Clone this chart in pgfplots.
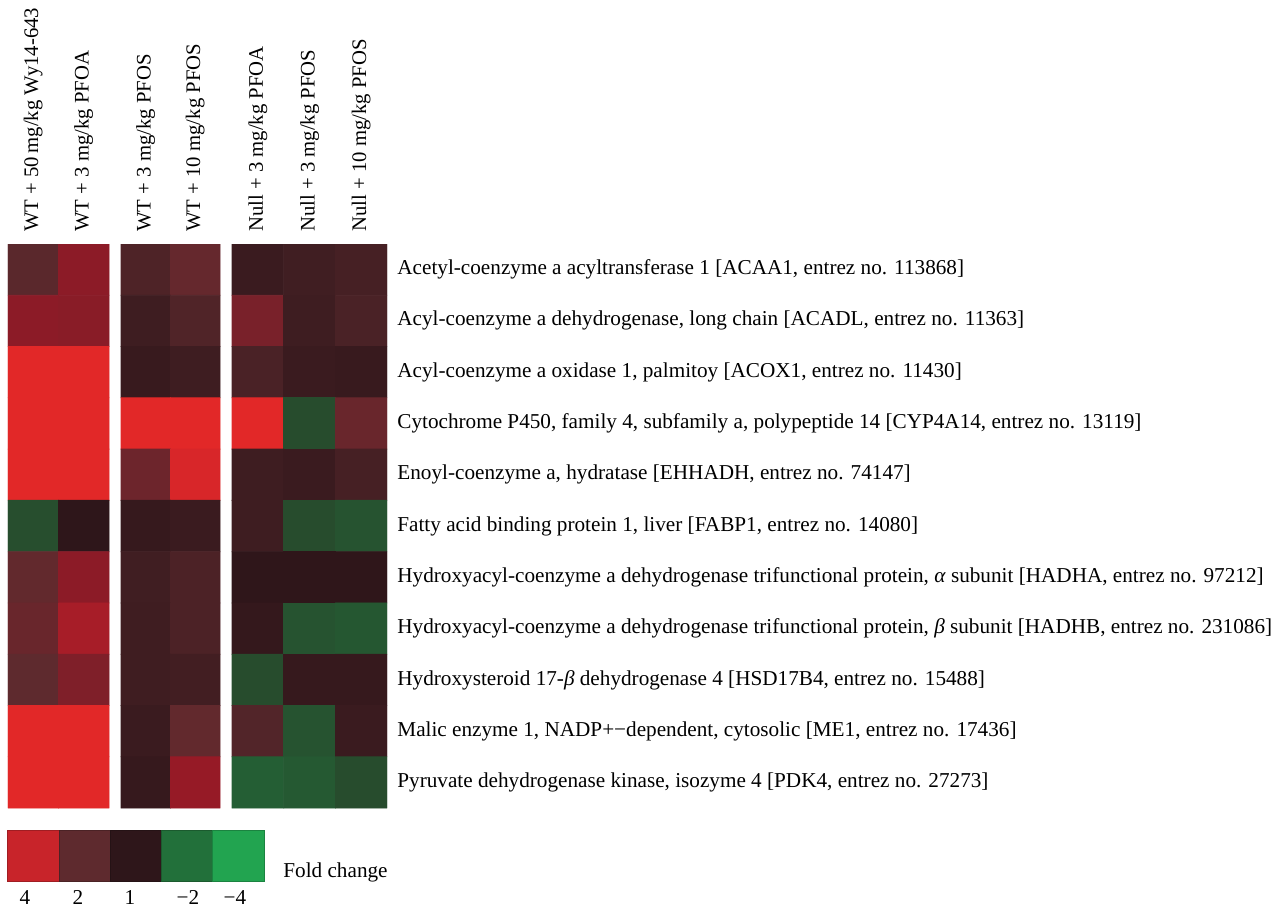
\documentclass[border=0pt]{standalone}
\usepackage{pgfplots}
\pgfplotsset{compat=1.18}
\usepackage{fontspec}
\setmainfont{Liberation Serif}
\newcommand{\lblfont}{\fontsize{10.6}{12.7}\selectfont}
\newcommand{\colfont}{\fontsize{10.35}{12.4}\selectfont}
\begin{document}
\begin{tikzpicture}
\useasboundingbox (0pt,0pt) rectangle (639.5pt,-453.5pt);
\pgfplotsset{
  colormap={foldchange}{rgb255(0cm)=(34,164,80) rgb255(1cm)=(34,112,58) rgb255(2cm)=(46,22,26) rgb255(3cm)=(94,42,46) rgb255(3.5cm)=(145,25,38) rgb255(4cm)=(200,36,42) rgb255(5cm)=(226,40,40)},
}
\begin{axis}[
  at={(4pt,-122pt)}, anchor=north west,
  scale only axis, width=189.5pt, height=282pt,
  xmin=8, xmax=387, ymin=-0.5, ymax=10.5, y dir=reverse,
  enlargelimits=false,
  axis line style={draw=none}, major tick length=0pt,
  point meta min=-2, point meta max=3,
  xtick={33.25,83.75,145.75,195.25,257.85,309.55,361.25},
  xticklabels={{WT + 50\,mg/kg Wy14-643},{WT + 3 mg/kg PFOA},{WT + 3 mg/kg PFOS},{WT + 10 mg/kg PFOS},{Null + 3 mg/kg PFOA},{Null + 3 mg/kg PFOS},{Null + 10 mg/kg PFOS}},
  xticklabel pos=top,
  xticklabel style={rotate=90, anchor=west, inner sep=0pt, font=\colfont},
  xticklabel shift=6pt,
  ytick={0,1,2,3,4,5,6,7,8,9,10},
  yticklabels={
    {Acetyl-coenzyme a acyltransferase 1 [ACAA1, entrez no. 113868]},
    {Acyl-coenzyme a dehydrogenase, long chain [ACADL, entrez no. 11363]},
    {Acyl-coenzyme a oxidase 1, palmitoy [ACOX1, entrez no. 11430]},
    {Cytochrome P450, family 4, subfamily a, polypeptide 14 [CYP4A14, entrez no. 13119]},
    {Enoyl-coenzyme a, hydratase [EHHADH, entrez no. 74147]},
    {Fatty acid binding protein 1, liver [FABP1, entrez no. 14080]},
    {Hydroxyacyl-coenzyme a dehydrogenase trifunctional protein, \textit{α} subunit [HADHA, entrez no. 97212]},
    {Hydroxyacyl-coenzyme a dehydrogenase trifunctional protein, \textit{β} subunit [HADHB, entrez no. 231086]},
    {Hydroxysteroid 17-\textit{β} dehydrogenase 4 [HSD17B4, entrez no. 15488]},
    {Malic enzyme 1, NADP+−dependent, cytosolic [ME1, entrez no. 17436]},
    {Pyruvate dehydrogenase kinase, isozyme 4 [PDK4, entrez no. 27273]}},
  yticklabel pos=right,
  yticklabel style={anchor=west, inner sep=0pt, font=\lblfont},
  yticklabel shift=5pt,
]
% block 1: WT + Wy14-643, WT + PFOA
\addplot[matrix plot*, mesh/cols=2, point meta=explicit] table[meta=m] {
x y m
33.25 0 0.92
83.75 0 1.45
33.25 1 1.45
83.75 1 1.42
33.25 2 3
83.75 2 3
33.25 3 3
83.75 3 3
33.25 4 3
83.75 4 3
33.25 5 -0.62
83.75 5 0.00
33.25 6 1.04
83.75 6 1.45
33.25 7 1.11
83.75 7 1.70
33.25 8 1.00
83.75 8 1.32
33.25 9 3
83.75 9 3
33.25 10 3
83.75 10 3
};
% block 2: WT + PFOS
\addplot[matrix plot*, mesh/cols=2, point meta=explicit] table[meta=m] {
x y m
145.75 0 0.67
195.25 0 1.07
145.75 1 0.33
195.25 1 0.71
145.75 2 0.21
195.25 2 0.33
145.75 3 3
195.25 3 3
145.75 4 1.15
195.25 4 2.60
145.75 5 0.17
195.25 5 0.25
145.75 6 0.38
195.25 6 0.62
145.75 7 0.35
195.25 7 0.62
145.75 8 0.35
195.25 8 0.42
145.75 9 0.25
195.25 9 1.04
145.75 10 0.17
195.25 10 1.55
};
% block 3: Null
\addplot[matrix plot*, mesh/cols=3, point meta=explicit] table[meta=m] {
x y m
257.85 0 0.25
309.55 0 0.38
361.25 0 0.50
257.85 1 1.26
309.55 1 0.33
361.25 1 0.58
257.85 2 0.58
309.55 2 0.25
361.25 2 0.21
257.85 3 3
309.55 3 -0.60
361.25 3 1.11
257.85 4 0.33
309.55 4 0.25
361.25 4 0.50
257.85 5 0.33
309.55 5 -0.60
361.25 5 -0.68
257.85 6 0.02
309.55 6 0.02
361.25 6 0.02
257.85 7 0.12
309.55 7 -0.68
361.25 7 -0.72
257.85 8 -0.60
309.55 8 0.17
361.25 8 0.17
257.85 9 0.75
309.55 9 -0.68
361.25 9 0.25
257.85 10 -0.80
309.55 10 -0.75
361.25 10 -0.60
};
\end{axis}
% colour key
\begin{axis}[
  at={(4pt,-415pt)}, anchor=north west,
  scale only axis, width=128pt, height=26pt,
  xmin=8, xmax=264, ymin=-0.5, ymax=0.5,
  enlargelimits=false, clip=false,
  axis line style={draw=none}, major tick length=0pt,
  point meta min=-2, point meta max=3,
  ytick=\empty,
  xtick={25,78,130,188,235},
  xticklabels={4,2,1,−2,−4},
  xticklabel style={anchor=north, inner sep=0pt, font=\lblfont},
  xticklabel shift=4.2pt,
]
\addplot[scatter, only marks, mark=square*, mark size=12.8pt, scatter src=explicit, mark options={line width=0pt}] table[meta=m] {
x y m
33.6 0 2
84.8 0 1
136.0 0 0
187.2 0 -1
238.4 0 -2
};
\end{axis}
\node[anchor=base west, inner sep=0pt, font=\lblfont] at (141.5pt,-438.5pt) {Fold change};
\end{tikzpicture}
\end{document}
